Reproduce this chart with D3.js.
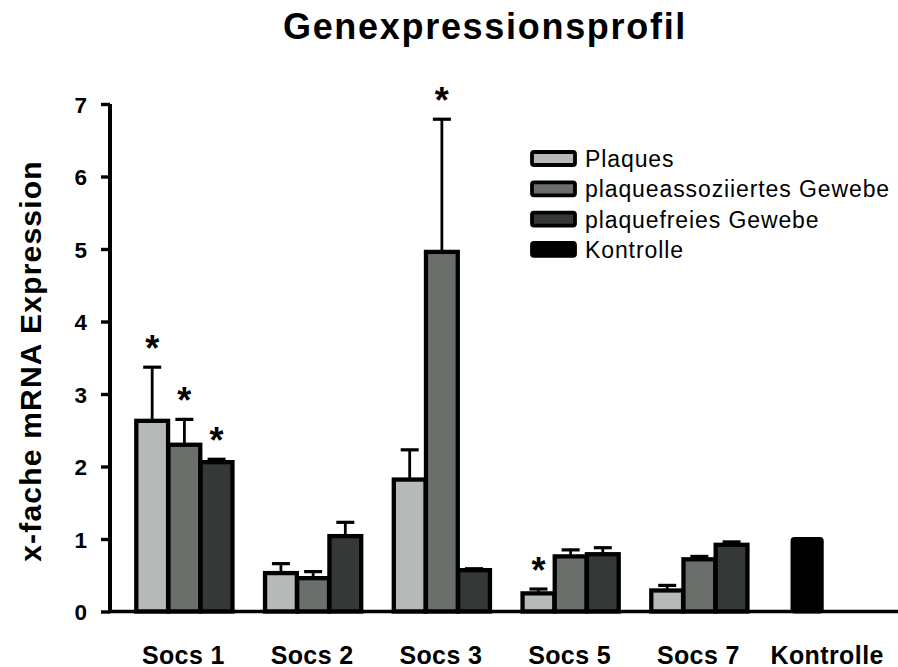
<!DOCTYPE html>
<html>
<head>
<meta charset="utf-8">
<script src="https://cdn.jsdelivr.net/npm/d3@7"></script>
<style>
  html, body { margin: 0; padding: 0; background: #fff; }
  svg { display: block; font-family: "Liberation Sans", Arial, sans-serif; }
</style>
</head>
<body>
<svg id="chart" width="898" height="667"></svg>
<script>
// ---- data ----
const categories = ["Socs 1", "Socs 2", "Socs 3", "Socs 5", "Socs 7", "Kontrolle"];
const seriesNames = ["Plaques", "plaqueassoziiertes Gewebe", "plaquefreies Gewebe", "Kontrolle"];
const plaques      = [2.63, 0.53, 1.82, 0.25, 0.29, null];
const plaquesErr   = [0.74, 0.13, 0.41, 0.06, 0.07, null];
const assoziiert   = [2.30, 0.46, 4.96, 0.76, 0.72, null];
const assoziiertErr= [0.35, 0.09, 1.83, 0.09, 0.04, null];
const frei         = [2.06, 1.04, 0.57, 0.79, 0.92, null];
const freiErr      = [0.04, 0.19, 0.02, 0.09, 0.04, null];
const kontrolle    = [null, null, null, null, null, 1.0];
const plaquesSig    = [true, false, false, true, false, false];
const assoziiertSig = [true, false, true, false, false, false];
const freiSig       = [true, false, false, false, false, false];
const yTicks = [0, 1, 2, 3, 4, 5, 6, 7];
const titleText = "Genexpressionsprofil";
const yLabel = "x-fache mRNA Expression";

const colors = ["#b5b9b7", "#6a6f6c", "#343836", "#000000"];

const svg = d3.select("#chart");

const y = d3.scaleLinear().domain([0, 7]).range([611.5, 104]);
const x0 = d3.scaleBand().domain(categories).range([119, 119 + 6 * 128.75]).padding(0);
const x1 = d3.scaleBand().domain(seriesNames.slice(0, 3)).range([0, x0.bandwidth()])
  .paddingInner(0).paddingOuter(0.5);

const groups = [
  { name: seriesNames[0], vals: plaques, errs: plaquesErr, sig: plaquesSig, color: colors[0] },
  { name: seriesNames[1], vals: assoziiert, errs: assoziiertErr, sig: assoziiertSig, color: colors[1] },
  { name: seriesNames[2], vals: frei, errs: freiErr, sig: freiSig, color: colors[2] }
];

const bars = [];
groups.forEach(g => {
  categories.forEach((c, i) => {
    if (g.vals[i] == null) return;
    bars.push({ cat: c, series: g.name, v: g.vals[i], e: g.errs[i], sig: g.sig[i], color: g.color,
      x: x0(c) + x1(g.name) + 1.2, w: x1.bandwidth() - 0.4 });
  });
});

// title
svg.append("text")
  .attr("x", 485).attr("y", 39)
  .attr("text-anchor", "middle")
  .attr("font-size", 36).attr("font-weight", "bold")
  .attr("letter-spacing", 1.7)
  .text(titleText);

// error bars (behind bars)
const eb = svg.append("g").attr("stroke", "#000").attr("stroke-width", 2.8);
bars.forEach(b => {
  const cx = b.x + b.w / 2;
  eb.append("line").attr("x1", cx).attr("x2", cx).attr("y1", y(b.v)).attr("y2", y(b.v + b.e));
  eb.append("line").attr("x1", cx - 9).attr("x2", cx + 9).attr("y1", y(b.v + b.e)).attr("y2", y(b.v + b.e))
    .attr("stroke-width", 3.2);
});

// bars
svg.append("g").selectAll("rect").data(bars).join("rect")
  .attr("x", d => d.x)
  .attr("y", d => y(d.v))
  .attr("width", d => d.w)
  .attr("height", d => y(0) - y(d.v))
  .attr("fill", d => d.color)
  .attr("stroke", "#000")
  .attr("stroke-width", 4.3);

// Kontrolle bar
categories.forEach((c, i) => {
  if (kontrolle[i] == null) return;
  const w = x1.bandwidth();
  const cx = x0(c) + x0.bandwidth() / 2 - 20;
  svg.append("rect")
    .attr("x", cx - w / 2 + 1.5).attr("y", y(kontrolle[i]))
    .attr("width", w - 3).attr("height", y(0) - y(kontrolle[i]))
    .attr("fill", colors[3]).attr("stroke", "#000").attr("stroke-width", 4)
    .attr("rx", 2);
});

// significance stars
svg.append("g").selectAll("text").data(bars.filter(b => b.sig)).join("text")
  .attr("x", d => d.x + d.w / 2)
  .attr("y", d => y(d.v + d.e) - 6)
  .attr("text-anchor", "middle")
  .attr("font-size", 36).attr("font-weight", "bold")
  .text("*");

// y axis
const yAxis = svg.append("g").attr("transform", "translate(110,0)")
  .call(d3.axisLeft(y).tickValues(yTicks).tickSize(9).tickPadding(14).tickFormat(d3.format("d")));
yAxis.select(".domain").attr("stroke-width", 4).attr("d", `M0,${y(7)}V${y(0)}`);
yAxis.selectAll(".tick line").attr("stroke-width", 3.4);
yAxis.selectAll(".tick text").attr("font-size", 22.5).attr("font-weight", "bold")
  .attr("font-family", "'Liberation Sans', Arial, sans-serif").attr("fill", "#000").attr("dy", "0.36em");

// x axis baseline
const xAxis = svg.append("g").attr("transform", `translate(0,${y(0)})`)
  .call(d3.axisBottom(x0).tickSize(0).tickPadding(40));
xAxis.select(".domain").attr("stroke-width", 3.6).attr("d", `M108,0H898`);
xAxis.selectAll(".tick text").attr("font-size", 25).attr("font-weight", "bold")
  .attr("font-family", "'Liberation Sans', Arial, sans-serif").attr("fill", "#000")
  .attr("letter-spacing", 0.4)
  .attr("dy", "0").attr("y", 52);

// y label
svg.append("text")
  .attr("transform", "translate(41,361) rotate(-90)")
  .attr("text-anchor", "middle")
  .attr("font-size", 30).attr("font-weight", "bold")
  .attr("letter-spacing", 1.2)
  .text(yLabel);

// legend
const legend = svg.append("g");
seriesNames.forEach((s, i) => {
  const yy = 167 + i * 30.3;
  legend.append("rect")
    .attr("x", 532).attr("y", yy - 15).attr("width", 43).attr("height", 13)
    .attr("fill", colors[i]).attr("stroke", "#000").attr("stroke-width", 3.8).attr("rx", 2);
  legend.append("text")
    .attr("x", 585).attr("y", yy)
    .attr("font-size", 23).attr("letter-spacing", 0.9)
    .text(s);
});
</script>
</body>
</html>
